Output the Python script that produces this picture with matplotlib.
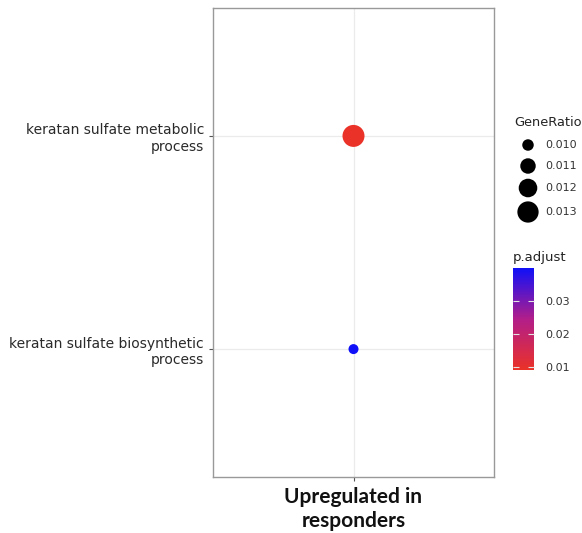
import numpy as np
import matplotlib.pyplot as plt
from matplotlib.colors import LinearSegmentedColormap, Normalize

# data
terms = ["keratan sulfate biosynthetic\nprocess", "keratan sulfate metabolic\nprocess"]
groups = ["Upregulated in\nresponders"]
gene_ratio = [0.0097, 0.0133]
p_adjust = [0.0398, 0.0091]
size_breaks = [0.010, 0.011, 0.012, 0.013]
color_breaks = [0.01, 0.02, 0.03]

W, H = 582, 533
fig = plt.figure(figsize=(W / 100, H / 100), dpi=100)


def px_box(x0, y0, x1, y1):
    return [x0 / W, 1 - y1 / H, (x1 - x0) / W, (y1 - y0) / H]


def dot_size(r):
    # ggplot-style area scaling between smallest and largest dot (pixels)
    lo, hi = min(gene_ratio), max(gene_ratio)
    d2 = 10 ** 2 + (22 ** 2 - 10 ** 2) * (r - lo) / (hi - lo)
    return d2 * 0.72 ** 2


cmap = LinearSegmentedColormap.from_list(
    "rb", ["#EA3228", "#B21E8A", "#1010F8"])
norm = Normalize(vmin=min(p_adjust), vmax=max(p_adjust))

ax = fig.add_axes(px_box(213, 8, 494, 477))
sc = ax.scatter(np.zeros(len(terms)), np.arange(len(terms)),
                s=[dot_size(r) for r in gene_ratio], c=p_adjust,
                cmap=cmap, norm=norm, linewidths=0, zorder=3)
ax.set_xlim(-0.6, 0.6)
ax.set_ylim(-0.6, len(terms) - 0.4)
ax.set_yticks(np.arange(len(terms)))
ax.set_yticklabels(terms, fontsize=10, color="#2a2a2a")
ax.set_xticks([0])
ax.set_xticklabels(groups, fontsize=15, fontweight="bold",
                   family=["Lato", "DejaVu Sans"], color="#111111",
                   linespacing=1.25)
ax.tick_params(axis="both", length=3, width=0.8, color="#555555")
ax.tick_params(axis="x", pad=4)
ax.grid(color="#EBEBEB", linewidth=0.9)
ax.set_axisbelow(True)
for sp in ax.spines.values():
    sp.set_color("#999999")
    sp.set_linewidth(1.0)

# size legend
fig.text(514 / W, 1 - 122 / H, "GeneRatio", fontsize=9.3, color="#222222",
         va="center", ha="left")
lax = fig.add_axes(px_box(505, 132, 582, 225))
lax.set_xlim(505, 582)
lax.set_ylim(225, 132)
lax.axis("off")
rows = [145, 166, 188, 212]
lax.scatter([528] * len(size_breaks), rows,
            s=[dot_size(b) for b in size_breaks], c="black", linewidths=0)
for yy, b in zip(rows, size_breaks):
    lax.text(545, yy, f"{b:.3f}", fontsize=8, color="#333333", va="center")

# colour legend
fig.text(513 / W, 1 - 257 / H, "p.adjust", fontsize=9.5, color="#222222",
         va="center", ha="left")
cax = fig.add_axes(px_box(513, 268, 534, 370))
cb = fig.colorbar(sc, cax=cax, ticks=color_breaks)
cb.outline.set_visible(False)
cax.yaxis.set_ticks_position("both")
cax.tick_params(direction="in", length=4, width=0.8, color="#e4e4e4",
                labelsize=8, labelcolor="#333333", labelleft=False,
                labelright=True, pad=8)
cb.set_ticklabels([f"{v:.2f}" for v in color_breaks])

fig.savefig("out.png", dpi=100)
